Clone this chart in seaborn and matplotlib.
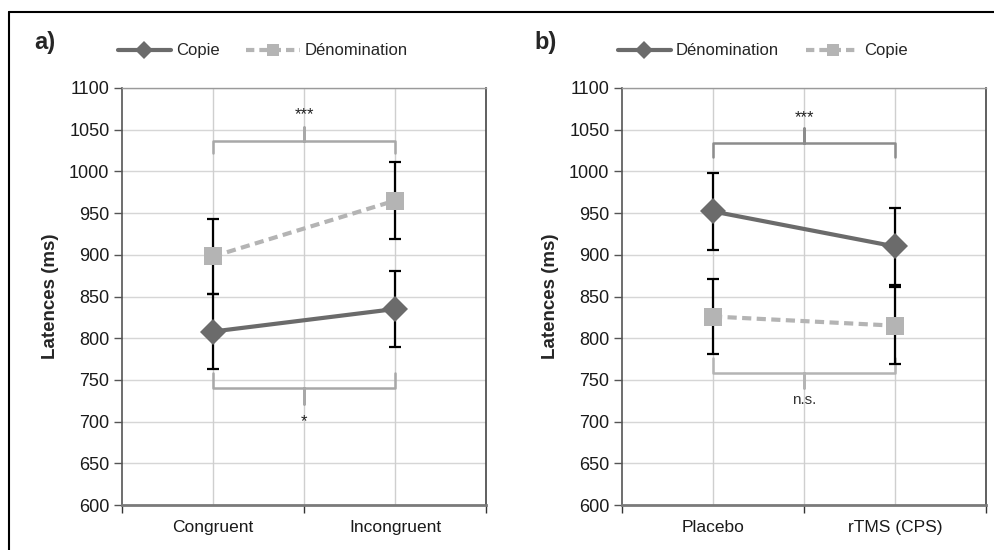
import matplotlib
matplotlib.use("Agg")
import matplotlib.pyplot as plt
import seaborn as sns
import pandas as pd
from matplotlib.lines import Line2D

# ---- data ----
cats_a = ["Congruent", "Incongruent"]
copie_a = [808, 835]
copie_a_err = [45, 45]
denom_a = [898, 965]
denom_a_err = [45, 46]

cats_b = ["Placebo", "rTMS (CPS)"]
denom_b = [952, 910]
denom_b_err = [46, 46]
copie_b = [826, 815]
copie_b_err = [45, 46]

yticks = list(range(600, 1101, 50))

sns.set_theme(style="white")
FONT = ["Liberation Sans Narrow", "Liberation Sans", "DejaVu Sans"]
plt.rcParams["font.family"] = FONT

DARK = "#6b6b6b"
LIGHT = "#b4b4b4"

fig = plt.figure(figsize=(9.94, 5.5), dpi=100)

# outer frame (top and left edges visible)
fig.add_artist(Line2D([9/994, 1.0], [1-11.5/550, 1-11.5/550], transform=fig.transFigure, color="black", lw=1.5))
fig.add_artist(Line2D([9/994, 9/994], [0, 1-11.5/550], transform=fig.transFigure, color="black", lw=1.5))


def panel(rect, cats, s1_name, s1, s1e, s1_style, s2_name, s2, s2e, s2_style, label):
    ax = fig.add_axes(rect)
    rows = []
    for i, c in enumerate(cats):
        rows.append({"x": i, "cond": c, "serie": s1_name, "v": s1[i], "e": s1e[i]})
        rows.append({"x": i, "cond": c, "serie": s2_name, "v": s2[i], "e": s2e[i]})
    df = pd.DataFrame(rows)
    # error bars
    for name in [s1_name, s2_name]:
        d = df[df.serie == name]
        ax.errorbar(d.x, d.v, yerr=d.e, fmt="none", ecolor="black", elinewidth=1.6,
                    capsize=4.2, capthick=1.6, zorder=3)
    styles = {s1_name: s1_style, s2_name: s2_style}
    palette = {n: styles[n][0] for n in styles}
    markers = {n: styles[n][1] for n in styles}
    dashes = {n: styles[n][2] for n in styles}
    sns.lineplot(data=df, x="x", y="v", hue="serie", style="serie", palette=palette,
                 markers=markers, dashes=dashes, markersize=13, markeredgewidth=0,
                 linewidth=3, ax=ax, legend=False, zorder=4, hue_order=[s1_name, s2_name])
    ax.set_xlim(-0.5, 1.5)
    ax.set_ylim(600, 1100)
    ax.set_yticks(yticks)
    ax.set_yticklabels([str(t) for t in yticks], fontsize=13, color="#1a1a1a")
    ax.set_xticks([-0.5, 0.5, 1.5])
    ax.set_xticklabels([])
    ax.set_xticks([0, 1], minor=True)
    ax.set_xticklabels(cats, minor=True, fontsize=12.5, color="#1a1a1a")
    ax.tick_params(axis="x", which="major", length=6, width=1, color="#333333", direction="out", bottom=True)
    ax.tick_params(axis="x", which="minor", length=0, pad=11)
    ax.tick_params(axis="y", length=6, width=1, color="#555555", direction="out", left=True, pad=3)
    ax.set_xlabel("")
    ax.set_ylabel("Latences (ms)", fontsize=13.5, fontweight="bold", labelpad=7)
    for y in yticks:
        ax.axhline(y, color="#d6d6d6", lw=1, zorder=0)
    for x in [0, 0.5, 1]:
        ax.axvline(x, color="#cfcfcf", lw=1, zorder=0)
    ax.spines["left"].set_color("#555555")
    ax.spines["left"].set_linewidth(1.2)
    ax.spines["right"].set_color("#444444")
    ax.spines["right"].set_linewidth(1.2)
    ax.spines["bottom"].set_color("#7a7a7a")
    ax.spines["bottom"].set_linewidth(2)
    ax.spines["top"].set_color("#9a9a9a")
    ax.spines["top"].set_linewidth(1)
    handles = [
        Line2D([], [], color=s1_style[0], marker=s1_style[1], lw=3, markersize=9,
               linestyle="-", markeredgewidth=0),
        Line2D([], [], color=s2_style[0], marker=s2_style[1], lw=3, markersize=9,
               linestyle=(0, (2, 1.2)), markeredgewidth=0),
    ]
    ax.legend(handles, [s1_name, s2_name], loc="lower left", bbox_to_anchor=(-0.03, 1.055),
              ncol=2, frameon=False, fontsize=12, handlelength=3.2, columnspacing=1.6,
              handletextpad=0.3, borderaxespad=0)
    ax.text(-0.24, 1.108, label, transform=ax.transAxes, fontsize=17, fontweight="bold",
            ha="left", va="center")
    return ax


def brace(ax, x0, x1, yline, yend, ytip, color):
    xm = (x0 + x1) / 2
    ax.plot([x0, x0, xm, xm, xm, x1, x1], [yend, yline, yline, ytip, yline, yline, yend],
            color=color, lw=1.8, solid_joinstyle="round", zorder=2)


axa = panel([122/994, 1-505/550, 364/994, 417/550], cats_a,
            "Copie", copie_a, copie_a_err, (DARK, "D", ""),
            "Dénomination", denom_a, denom_a_err, (LIGHT, "s", (2.2, 1.3)), "a)")
brace(axa, 0, 1, 1037, 1022, 1053, "#a8a8a8")
axa.text(0.5, 1068, "***", ha="center", va="center", fontsize=12, color="#222222")
brace(axa, 0, 1, 740, 758, 721, "#a8a8a8")
axa.text(0.5, 700, "*", ha="center", va="center", fontsize=12, color="#222222")

axb = panel([622/994, 1-505/550, 364/994, 417/550], cats_b,
            "Dénomination", denom_b, denom_b_err, (DARK, "D", ""),
            "Copie", copie_b, copie_b_err, (LIGHT, "s", (2.2, 1.3)), "b)")
brace(axb, 0, 1, 1034, 1017, 1052, "#8c8c8c")
axb.text(0.5, 1065, "***", ha="center", va="center", fontsize=12, color="#222222")
brace(axb, 0, 1, 758, 776, 740, "#b4b4b4")
axb.text(0.5, 726, "n.s.", ha="center", va="center", fontsize=11, color="#333333")

fig.savefig("out.png", dpi=100)
